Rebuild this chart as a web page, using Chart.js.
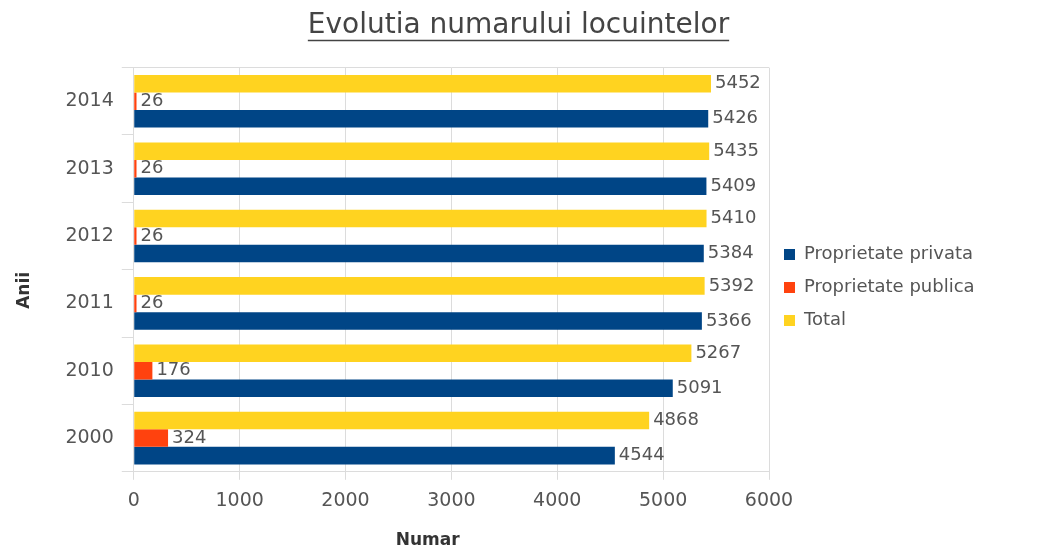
<!DOCTYPE html>
<html>
<head>
<meta charset="utf-8">
<script src="https://cdn.jsdelivr.net/npm/chart.js@4/dist/chart.umd.min.js"></script>
<style>
  html, body { margin: 0; padding: 0; background: #ffffff; }
  #wrap { width: 1039px; height: 551px; position: relative; }
</style>
</head>
<body>
<div id="wrap"><canvas id="c"></canvas></div>
<script>
// ---- data ----
const categories = ['2014', '2013', '2012', '2011', '2010', '2000'];
const privateValues = [5426, 5409, 5384, 5366, 5091, 4544];
const publicValues = [26, 26, 26, 26, 176, 324];
const totalValues = [5452, 5435, 5410, 5392, 5267, 4868];
const seriesNames = ['Proprietate privata', 'Proprietate publica', 'Total'];
const seriesColors = ['#004586', '#ff420e', '#ffd320'];
const xTickValues = [0, 1000, 2000, 3000, 4000, 5000, 6000];
const chartTitle = 'Evolutia numarului locuintelor';
const xTitle = 'Numar';
const yTitle = 'Anii';

const FONT = 'DejaVu Sans';
const TEXT = '#555555';
const GRID = '#dcdcdc';

const valueLabels = {
  id: 'valueLabels',
  afterDatasetsDraw(chart) {
    const ctx = chart.ctx;
    ctx.save();
    ctx.font = '18px "' + FONT + '"';
    ctx.fillStyle = TEXT;
    ctx.textAlign = 'left';
    ctx.textBaseline = 'middle';
    chart.data.datasets.forEach((ds, i) => {
      const meta = chart.getDatasetMeta(i);
      meta.data.forEach((el, j) => {
        ctx.fillText(String(ds.data[j]), el.x + 4, el.y);
      });
    });
    ctx.restore();
  }
};

const titleUnderline = {
  id: 'titleUnderline',
  afterDraw(chart) {
    const tb = chart.titleBlock;
    if (!tb) return;
    const ctx = chart.ctx;
    const size = 28;
    ctx.save();
    ctx.font = size + 'px "' + FONT + '"';
    const w = ctx.measureText(chartTitle).width;
    const cx = (tb.left + tb.right) / 2;
    const mid = tb.top + 9 + size * 1.2 / 2;
    const y = Math.round(mid + size * 0.52) + 0.5;
    ctx.strokeStyle = '#444444';
    ctx.lineWidth = 1.5;
    ctx.beginPath();
    ctx.moveTo(cx - w / 2, y);
    ctx.lineTo(cx + w / 2, y);
    ctx.stroke();
    ctx.restore();
  }
};

new Chart(document.getElementById('c'), {
  type: 'bar',
  data: {
    labels: categories,
    datasets: [
      { label: seriesNames[2], data: totalValues, backgroundColor: seriesColors[2] },
      { label: seriesNames[1], data: publicValues, backgroundColor: seriesColors[1] },
      { label: seriesNames[0], data: privateValues, backgroundColor: seriesColors[0] }
    ]
  },
  options: {
    indexAxis: 'y',
    responsive: true,
    maintainAspectRatio: false,
    animation: false,
    datasets: { bar: { categoryPercentage: 0.78, barPercentage: 1.0 } },
    layout: { padding: { left: 8, right: 10, top: 0, bottom: 0 } },
    plugins: {
      title: {
        display: true,
        text: chartTitle,
        color: '#444444',
        font: { family: FONT, size: 28, weight: 'normal' },
        padding: { top: 9, bottom: 25 }
      },
      legend: {
        position: 'right',
        reverse: true,
        title: { display: true, text: ' ', font: { family: FONT, size: 10 }, padding: { top: 12, bottom: 0 } },
        labels: {
          color: TEXT,
          font: { family: FONT, size: 18 },
          boxWidth: 11,
          boxHeight: 11,
          padding: 15
        }
      },
      tooltip: { enabled: false }
    },
    scales: {
      x: {
        min: 0,
        max: 6000,
        afterBuildTicks: (s) => { s.ticks = xTickValues.map(v => ({ value: v })); },
        afterFit: (s) => { s.paddingRight = 270; },
        grid: { color: GRID, tickColor: GRID, tickLength: 8, drawTicks: true },
        border: { color: GRID },
        ticks: {
          color: TEXT, font: { family: FONT, size: 19 }, padding: 10, maxRotation: 0,
          callback: (v) => String(v)
        },
        title: {
          display: true, text: xTitle + '        ', color: '#333333',
          font: { family: FONT, size: 17, weight: 'bold' },
          padding: { top: 8, bottom: 0 }
        }
      },
      y: {
        offset: true,
        grid: {
          offset: true,
          color: (c) => (c.index === 0 || c.index === categories.length) ? GRID : 'rgba(0,0,0,0)',
          tickColor: GRID,
          tickLength: 12
        },
        border: { color: GRID },
        ticks: { color: TEXT, font: { family: FONT, size: 19 }, padding: 8 },
        title: {
          display: true, text: yTitle + '       ', color: '#333333',
          font: { family: FONT, size: 17, weight: 'bold' },
          padding: { top: 6, bottom: 23 }
        }
      }
    }
  },
  plugins: [valueLabels, titleUnderline]
});
</script>
</body>
</html>
